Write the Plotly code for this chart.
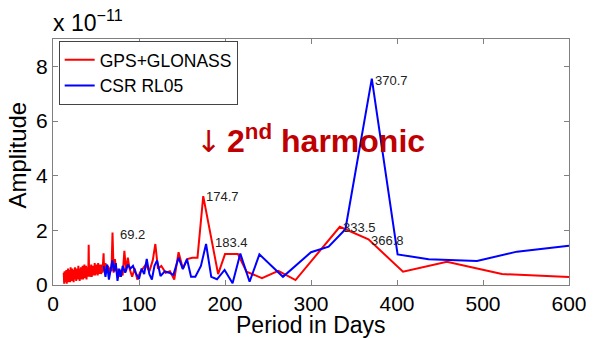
import plotly.graph_objects as go

# Amplitudes in units of 1e-11
gps_period = [12.5, 13, 13.5, 14, 14.5, 15, 15.5, 16, 16.5, 17, 17.5, 18, 18.5, 19, 19.5,
              20, 20.5, 21, 21.5, 22, 22.5, 23, 23.5, 24, 24.5, 25, 25.5, 26, 26.5, 27,
              27.5, 28, 28.5, 29, 29.5, 30, 30.5, 31, 31.5, 32, 32.5, 33, 33.5, 34, 34.5,
              35, 35.5, 36, 36.5, 37, 37.5, 38, 38.5, 39, 39.5, 40, 40.5, 41, 41.5, 42,
              42.5, 43, 43.5, 44, 44.5, 45, 45.5, 46, 46.5, 47, 47.5, 48, 48.5, 49, 49.5,
              50, 50.5, 51, 51.5, 52, 52.5, 53, 53.5, 54, 54.5, 55, 55.5, 56, 57, 57.5,
              58.8, 59.5, 61, 62.5, 64, 65.5, 67, 68, 69.2, 70.5, 72, 73.5, 75, 77, 79,
              81, 83, 85, 87, 89, 92, 95, 98, 101, 104, 108, 112, 116, 119, 122, 126,
              131, 136, 141, 146, 151, 156, 162, 168, 174.7, 192, 200, 215, 225, 243,
              262, 282, 333.5, 366.8, 407, 458, 522, 600]
gps_amp = [0.45, 0.05, 0.5, 0.1, 0.4, 0.15, 0.55, 0.05, 0.45, 0.2, 0.6, 0.1, 0.5, 0.25,
           0.55, 0.1, 0.65, 0.2, 0.5, 0.15, 0.6, 0.3, 0.55, 0.1, 0.5, 0.2, 0.65, 0.25,
           0.5, 0.15, 0.6, 0.3, 0.55, 0.2, 0.7, 0.25, 0.5, 0.15, 0.6, 0.3, 0.65, 0.2,
           0.55, 0.35, 0.7, 0.2, 0.6, 0.3, 0.75, 0.25, 0.6, 0.35, 0.7, 0.2, 0.65, 0.35,
           0.6, 0.3, 1.47, 0.35, 0.7, 0.3, 0.65, 0.4, 0.75, 0.3, 0.6, 0.4, 0.7, 0.35,
           0.65, 0.4, 0.8, 0.35, 0.7, 0.45, 0.75, 0.4, 0.65, 0.35, 0.8, 0.45, 0.7, 0.4,
           0.75, 0.45, 0.7, 0.4, 0.75, 0.45, 1.16, 0.5, 0.8, 0.45, 0.7, 0.4, 0.65, 0.5,
           1.92, 0.45, 0.95, 0.5, 0.6, 0.3, 0.55, 0.35, 1.25, 0.5, 1.0, 0.6, 0.3, 0.6,
           0.2, 0.45, 0.6, 0.75, 0.5, 0.9, 1.5, 0.6, 0.7, 0.45, 0.5, 0.2, 1.2, 0.6, 0.95,
           1.0, 1.0, 3.25, 0.4, 1.13, 1.13, 0.49, 0.25, 0.52, 0.18, 2.13, 1.67, 0.49,
           0.85, 0.4, 0.29]

csr_period = [59, 61, 63, 65, 67, 69, 71, 73, 75, 77, 79, 81, 84, 87, 90, 93, 96, 100,
              103, 106, 109, 112, 115, 118, 121, 125, 130, 135, 140, 146, 151, 155.8,
              160.5, 165.5, 172, 178, 184, 190.7, 199.5, 208.8, 217.8, 228.6, 240,
              267.4, 300, 320.5, 340, 370.7, 400.7, 436.8, 493, 539.5, 600]
csr_amp = [0.7, 0.3, 0.75, 0.2, 0.55, 0.9, 0.5, 0.8, 0.15, 0.6, 0.3, 0.7, 0.45, 0.75,
           0.6, 0.7, 0.45, 0.22, 0.6, 0.4, 0.95, 0.4, 0.2, 0.7, 0.9, 0.33, 0.5, 0.45,
           0.37, 1.0, 0.58, 0.95, 0.3, 0.3, 0.7, 1.5, 0.3, 0.21, 0.55, 0.06, 1.15, 0.12,
           1.12, 0.3, 1.2, 1.4, 2.04, 7.55, 1.12, 0.94, 0.88, 1.22, 1.44]

peak_labels = ["69.2", "174.7", "183.4", "333.5", "366.8", "370.7"]
peak_label_x = [75, 176, 185.5, 335, 368, 372.5]
peak_label_y = [1.83, 3.23, 1.55, 2.11, 1.62, 7.5]

x_ticks = [0, 100, 200, 300, 400, 500, 600]
y_ticks = [0, 2, 4, 6, 8]

FONT = "Liberation Sans, Arial, sans-serif"

fig = go.Figure()
fig.add_trace(go.Scatter(x=gps_period, y=gps_amp, mode="lines", name="GPS+GLONASS",
                         line=dict(color="#ff0000", width=2)))
fig.add_trace(go.Scatter(x=csr_period, y=csr_amp, mode="lines", name="CSR RL05",
                         line=dict(color="#0000ff", width=2)))

for t, x, y in zip(peak_labels, peak_label_x, peak_label_y):
    fig.add_annotation(x=x, y=y, text=t, showarrow=False, xanchor="left", yanchor="middle",
                       font=dict(family=FONT, size=13, color="#222222"))

fig.add_annotation(x=180.5, y=5.25, text="↓", showarrow=False, xanchor="center",
                   yanchor="middle", font=dict(family="DejaVu Sans", size=30, color="#c00000"))
fig.add_annotation(x=200.5, y=5.35, text="<b>2<sup>nd</sup> harmonic</b>", showarrow=False,
                   xanchor="left", yanchor="middle",
                   font=dict(family=FONT, size=32, color="#c00000"))
fig.add_annotation(xref="paper", yref="paper", x=0.0, y=1.0, xshift=-2, yshift=1,
                   text="x 10<sup>−11</sup>", showarrow=False, xanchor="left", yanchor="bottom",
                   font=dict(family=FONT, size=23, color="#000000"))

# axis titles
fig.add_annotation(xref="paper", yref="paper", x=0.5, y=-0.163, text="Period in Days",
                   showarrow=False, xanchor="center", yanchor="middle",
                   font=dict(family=FONT, size=23, color="#000000"))
fig.add_annotation(xref="paper", yref="paper", x=-0.069, y=0.528, text="Amplitude",
                   textangle=-90, showarrow=False, xanchor="center", yanchor="middle",
                   font=dict(family=FONT, size=24, color="#000000"))

axis_common = dict(showline=True, linecolor="#808080", linewidth=1, mirror="ticks",
                   ticks="inside", ticklen=5, tickcolor="#808080", showgrid=False,
                   zeroline=False, automargin=False,
                   tickfont=dict(family=FONT, size=21, color="#000000"))

# the page body adds an 8px offset, so the figure is sized to fit the window
fig.update_layout(
    width=586, height=330,
    margin=dict(l=45, r=25, t=31, b=53),
    paper_bgcolor="white", plot_bgcolor="white",
    xaxis=dict(range=[0, 600], tickvals=x_ticks, **axis_common),
    yaxis=dict(range=[0, 9], tickvals=y_ticks, **axis_common),
    legend=dict(x=0.011, y=0.992, xanchor="left", yanchor="top",
                bgcolor="white", bordercolor="#444444", borderwidth=1,
                font=dict(family=FONT, size=17.5, color="#000"),
                tracegroupgap=0, itemwidth=30),
    showlegend=True,
)

fig.write_html("out.html")
